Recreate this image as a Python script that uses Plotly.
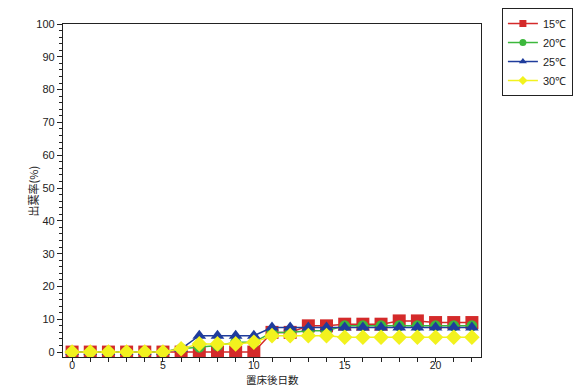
import plotly.graph_objects as go

# Days after placement on the bed
days = list(range(0, 23))

# Leaf emergence rate (%) for each temperature
rate_15 = [0, 0, 0, 0, 0, 0, 0, 0, 0, 0, 0, 6, 6, 8, 8, 8.5, 8.5, 8.5, 9.5, 9.5, 9, 9, 9]
rate_20 = [0, 0, 0, 0, 0, 0, 1, 1.5, 2, 3, 3, 6, 6, 6.5, 6.5, 8, 8, 8, 8, 8, 8, 8, 8]
rate_25 = [0, 0, 0, 0, 0, 0, 1, 5, 5, 5, 5, 7.5, 7.5, 7.5, 7.5, 7.5, 7.5, 7.5, 7.5, 7.5, 7.5, 7.5, 7.5]
rate_30 = [0, 0, 0, 0, 0, 0, 1, 2.5, 2.5, 2.5, 3, 5, 5, 5, 5, 4.5, 4.5, 4.5, 4.5, 4.5, 4.5, 4.5, 4.5]

series_names = ["15℃", "20℃", "25℃", "30℃"]
series_values = [rate_15, rate_20, rate_25, rate_30]
series_colors = ["#d42a2a", "#3cb83c", "#1f3c9c", "#f2f21e"]
series_symbols = ["square", "circle", "triangle-up", "diamond"]
series_sizes = [13, 11, 12, 12]

fig = go.Figure()
for name, vals, col, sym, sz in zip(series_names, series_values, series_colors,
                                     series_symbols, series_sizes):
    fig.add_trace(go.Scatter(
        x=days, y=vals, name=name, mode="lines+markers", showlegend=False,
        line=dict(color=col, width=1.5),
        marker=dict(symbol=sym, size=sz, color=col, line=dict(width=0)),
    ))

# Legend entries use smaller symbols than the plotted markers
for name, col, sym in zip(series_names, series_colors, series_symbols):
    fig.add_trace(go.Scatter(
        x=[None], y=[None], name=name, mode="lines+markers",
        line=dict(color=col, width=1.5),
        marker=dict(symbol=sym, size=7, color=col, line=dict(width=0)),
    ))

ink = "#222"
tick_font = dict(family="Liberation Sans Narrow, Liberation Sans, Arial", size=11, color=ink)
cjk = "Noto Sans CJK JP"

fig.update_layout(
    width=581, height=386,
    margin=dict(l=63, r=100, t=24, b=29, autoexpand=False),
    paper_bgcolor="white", plot_bgcolor="white",
    font=dict(family=cjk, size=11, color=ink),
    showlegend=True,
    legend=dict(
        x=1.05, y=1.048, xanchor="left", yanchor="top",
        bordercolor=ink, borderwidth=1,
        font=dict(family="Liberation Sans, Arial", size=11, color=ink),
        itemwidth=30, tracegroupgap=0,
    ),
    xaxis=dict(
        range=[-0.5, 22.5], tickmode="linear", tick0=0, dtick=5,
        ticks="outside", ticklen=4, tickcolor=ink, tickwidth=1,
        minor=dict(dtick=1, ticks="outside", ticklen=4, tickcolor=ink),
        showline=True, linecolor=ink, linewidth=1.2, mirror=True,
        showgrid=False, zeroline=False, automargin=False,
        ticklabelstandoff=-6,
        tickfont=dict(family="Liberation Sans, Arial", size=10.5, color=ink),
    ),
    yaxis=dict(
        range=[-1.5, 100], tickmode="linear", tick0=0, dtick=10,
        ticks="outside", ticklen=5, tickcolor=ink, tickwidth=1,
        minor=dict(dtick=2, ticks="outside", ticklen=3, tickcolor=ink),
        showline=True, linecolor=ink, linewidth=1.2, mirror=True,
        showgrid=False, zeroline=False, automargin=False,
        tickfont=tick_font,
    ),
    annotations=[
        dict(text="置床後日数", xref="paper", yref="paper", x=0.5, y=-0.067,
             xanchor="center", yanchor="middle", showarrow=False,
             font=dict(family=cjk, size=10.5, color=ink)),
        dict(text="出葉率(%)", xref="paper", yref="paper", x=-0.072, y=0.5,
             xanchor="center", yanchor="middle", showarrow=False, textangle=-90,
             font=dict(family=cjk, size=11, color=ink)),
    ],
)

fig.write_html("out.html")
